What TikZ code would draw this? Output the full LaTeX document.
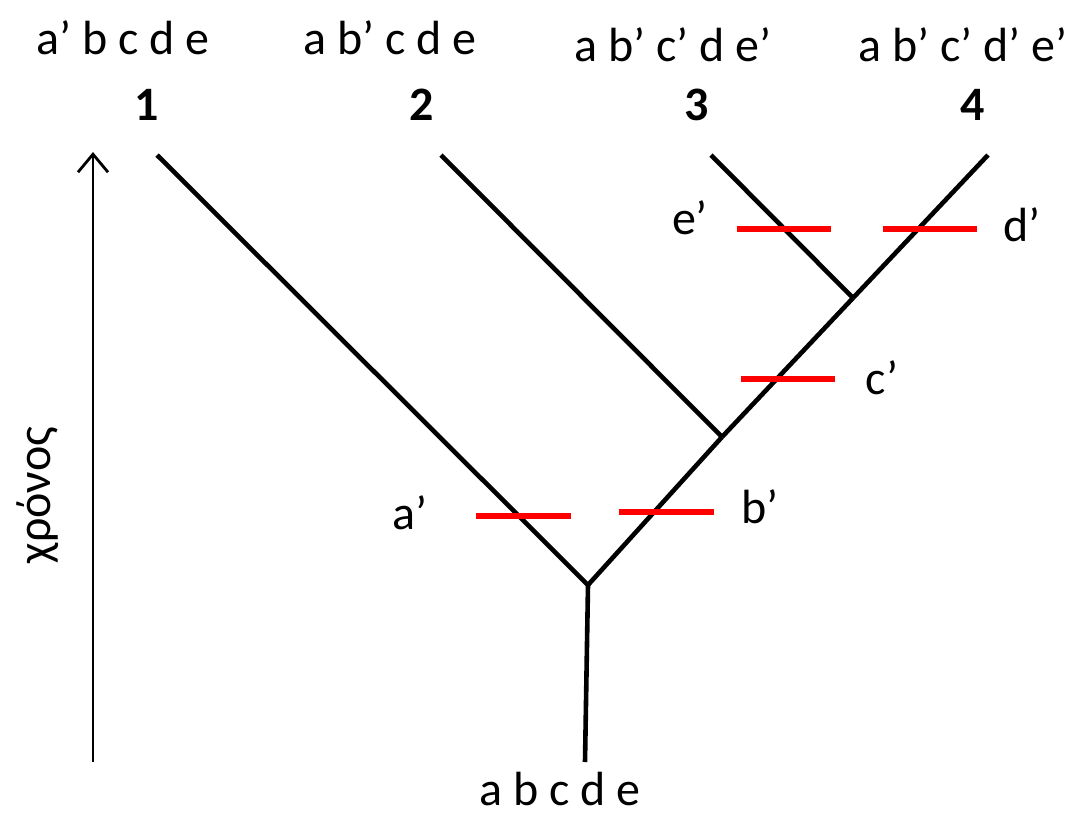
\documentclass[tikz,border=0pt]{standalone}
\usepackage{fontspec}
\setmainfont{Carlito}
\usetikzlibrary{arrows.meta}
\begin{document}
\begin{tikzpicture}[x=0.5pt, y=-0.5pt]
		
		% Styles
		\tikzstyle{branch} = [line width=2.3pt, black]
		\tikzstyle{change} = [line width=2.7pt, red]
		\tikzstyle{state} = [font=\fontsize{24}{28}\selectfont, inner sep=0pt]
		\tikzstyle{taxon} = [font=\fontsize{24}{28}\selectfont\bfseries, inner sep=0pt]
		
		\useasboundingbox (0,0) rectangle (1077,815);
		
		% Branch points of the tree
		\coordinate (root) at (585,762);
		\coordinate (forkA) at (588,585);
		\coordinate (forkB) at (722,437);
		\coordinate (forkC) at (853,298);
		\coordinate (tipone) at (157,155);
		\coordinate (tiptwo) at (441,155);
		\coordinate (tipthree) at (711,155);
		\coordinate (tipfour) at (988,155);
		
		% Tree
		\draw[branch] (root) -- (forkA);
		\draw[branch] (forkA) -- (tipone);
		\draw[branch] (forkA) -- (forkB);
		\draw[branch] (forkB) -- (tiptwo);
		\draw[branch] (forkB) -- (forkC);
		\draw[branch] (forkC) -- (tipthree);
		\draw[branch] (forkC) -- (tipfour);
		
		% Character changes
		\coordinate (al) at (476,516); \coordinate (ar) at (571,516);
		\coordinate (bl) at (619,512); \coordinate (br) at (714,512);
		\coordinate (cl) at (741,379); \coordinate (cr) at (835,379);
		\coordinate (el) at (737,229); \coordinate (er) at (831,229);
		\coordinate (dl) at (883,229); \coordinate (dr) at (977,229);
		\draw[change] (al) -- (ar);
		\draw[change] (bl) -- (br);
		\draw[change] (cl) -- (cr);
		\draw[change] (el) -- (er);
		\draw[change] (dl) -- (dr);
		
		\node[state] (alab) at (410,513) {a’};
		\node[state] (blab) at (760,507) {b’};
		\node[state] (clab) at (882,378) {c’};
		\node[state] (elab) at (690,218) {e’};
		\node[state] (dlab) at (1022,225) {d’};
		
		% Taxa and their states
		\node[taxon] (one) at (147,105) {1};
		\node[taxon] (two) at (422,105) {2};
		\node[taxon] (three) at (697,105) {3};
		\node[taxon] (four) at (973,105) {4};
		\node[state] (sone) at (123,38) {a’ b c d e};
		\node[state] (stwo) at (390,38) {a b’ c d e};
		\node[state] (sthree) at (673,45) {a b’ c’ d e’};
		\node[state] (sfour) at (963,45) {a b’ c’ d’ e’};
		\node[state] (sroot) at (560,789) {a b c d e};
		
		% Time axis
		\coordinate (tstart) at (93,762);
		\coordinate (tend) at (93,152);
		\draw[line width=1.1pt, -{Straight Barb[length=9pt, width=15pt, line width=1.4pt]}] (tstart) -- (tend);
		\node[state, rotate=90] (time) at (38,495) {χρόνος};
		
	\end{tikzpicture}
\end{document}
